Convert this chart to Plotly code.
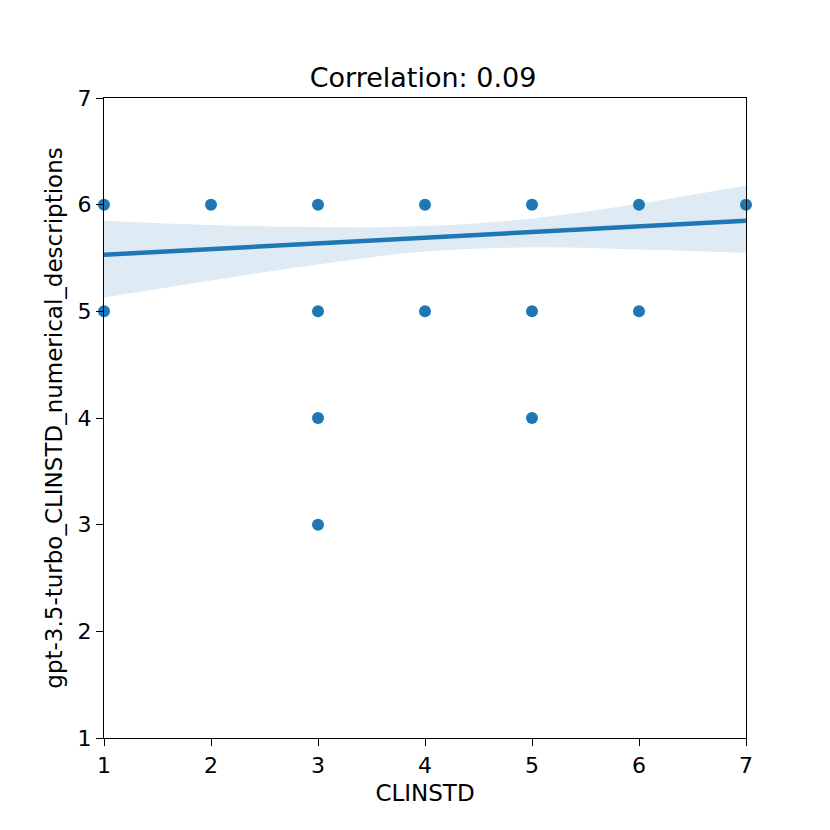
import plotly.graph_objects as go

# observed points (CLINSTD vs gpt-3.5-turbo score)
clinstd = [1, 1, 2, 3, 3, 3, 3, 4, 4, 5, 5, 5, 6, 6, 7]
gpt_scores = [6, 5, 6, 6, 5, 4, 3, 6, 5, 6, 5, 4, 6, 5, 6]

# regression fit and confidence band
fit_x = [1, 7]
fit_y = [5.53, 5.85]
band_x = [1, 2, 3, 4, 5, 6, 7]
band_upper = [5.85, 5.81, 5.79, 5.80, 5.87, 6.01, 6.18]
band_lower = [5.13, 5.29, 5.44, 5.56, 5.60, 5.58, 5.55]

blue = '#1f77b4'

fig = go.Figure()
fig.add_trace(go.Scatter(x=band_x, y=band_upper, mode='lines', line=dict(width=0, shape='spline'),
                         hoverinfo='skip', showlegend=False))
fig.add_trace(go.Scatter(x=band_x, y=band_lower, mode='lines', line=dict(width=0, shape='spline'),
                         fill='tonexty', fillcolor='rgba(31,119,180,0.15)', hoverinfo='skip', showlegend=False))
fig.add_trace(go.Scatter(x=clinstd, y=gpt_scores, mode='markers', marker=dict(color=blue, size=12),
                         cliponaxis=False, showlegend=False))
fig.add_trace(go.Scatter(x=fit_x, y=fit_y, mode='lines', line=dict(color=blue, width=4.5), showlegend=False))

axis_style = dict(showgrid=False, zeroline=False, showline=True, linecolor='black', linewidth=1.3,
                  mirror=True, ticks='outside', ticklen=7, tickwidth=1.3, tickcolor='black',
                  tickfont=dict(size=22, color='black'), dtick=1)

fig.update_layout(
    width=830, height=830,
    margin=dict(l=96, r=92, t=90, b=100),
    paper_bgcolor='white', plot_bgcolor='white',
    font=dict(family='DejaVu Sans', color='black'),
    title=dict(text='Correlation: 0.09', x=0.5, xanchor='center', y=0.905, yanchor='bottom',
               font=dict(size=27, color='black')),
    xaxis=dict(range=[1, 7], title=dict(text='CLINSTD', font=dict(size=23), standoff=8), **axis_style),
    yaxis=dict(range=[1, 7], title=dict(text='gpt-3.5-turbo_CLINSTD_numerical_descriptions', font=dict(size=23),
                                        standoff=8), **axis_style),
)

fig.write_html('out.html')
